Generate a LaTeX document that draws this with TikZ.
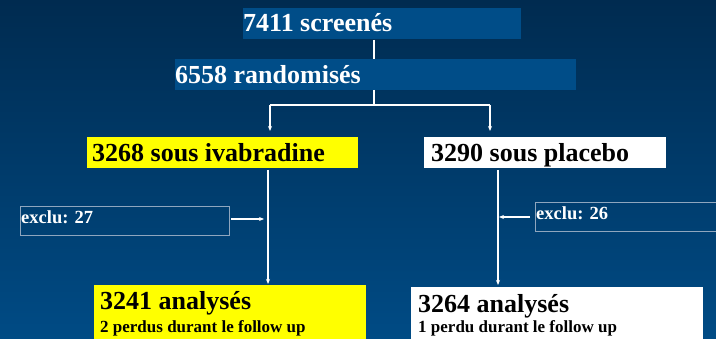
\documentclass[tikz,border=0pt]{standalone}
\usepackage{fontspec}
\setmainfont{Liberation Serif}
\usetikzlibrary{arrows.meta}
\definecolor{bgtop}{HTML}{002B50}
\definecolor{bgbot}{HTML}{004B85}
\definecolor{boxblue}{HTML}{004D88}
\definecolor{exborder}{HTML}{8FA6BE}
\definecolor{yel}{HTML}{FFFF00}
\tikzset{
  bigtxt/.style={anchor=base west, inner sep=0pt, font=\fontsize{26}{26}\selectfont\bfseries},
  smalltxt/.style={anchor=base west, inner sep=0pt, font=\fontsize{17}{17}\selectfont\bfseries},
  extxt/.style={anchor=base west, inner sep=0pt, font=\fontsize{18.5}{18.5}\selectfont\bfseries, text=white},
  conn/.style={draw=white, line width=1.2pt},
  arr/.style={conn, -{Stealth[length=5pt,width=4pt]}},
}
\begin{document}
\begin{tikzpicture}[x=1pt,y=-1pt]
\useasboundingbox (0,0) rectangle (716,339);
\shade[top color=bgtop, bottom color=bgbot] (0,0) rectangle (716,339);
% boxes
\fill[boxblue] (243,8) rectangle (521,39);
\fill[boxblue] (175,59) rectangle (576,90);
\fill[yel] (87,137) rectangle (358,168);
\fill[white] (424,137) rectangle (666,168);
\draw[exborder, line width=0.8pt] (20,206) rectangle (229,235);
\draw[exborder, line width=0.8pt] (535,202) rectangle (720,231);
\fill[yel] (94,285) rectangle (366,339);
\fill[white] (411,287) rectangle (703,339);
% texts
\node[bigtxt, text=white] (scr) at (243,32) {7411 screenés};
\node[bigtxt, text=white] (rand) at (175,84) {6558 randomisés};
\node[bigtxt] (iva) at (92,162) {3268 sous ivabradine};
\node[bigtxt] (pla) at (431,162) {3290 sous placebo};
\node[extxt] (ex1) at (21,224) {exclu: 27};
\node[extxt] (ex2) at (536,220) {exclu: 26};
\node[bigtxt] (an1) at (100,310) {3241 analysés};
\node[smalltxt] (pe1) at (100,333) {2 perdus durant le follow up};
\node[bigtxt] (an2) at (418,313) {3264 analysés};
\node[smalltxt] (pe2) at (418,333) {1 perdu durant le follow up};
% coordinates
\coordinate (a1) at (374,40);
\coordinate (a2) at (374,59);
\coordinate (b1) at (374,90);
\coordinate (b2) at (374,105);
\coordinate (l1) at (270,105);
\coordinate (l2) at (270,131);
\coordinate (r1) at (490,105);
\coordinate (r2) at (490,131);
\coordinate (i1) at (268,170);
\coordinate (i2) at (268,284);
\coordinate (p1) at (498,170);
\coordinate (p2) at (498,285);
\coordinate (e1a) at (231,219);
\coordinate (e1b) at (264,219);
\coordinate (e2a) at (530,217);
\coordinate (e2b) at (499,217);
% connectors
\draw[conn] (a1) -- (a2);
\draw[conn] (b1) -- (b2);
\draw[conn] (l1) -- (r1);
\draw[arr] (l1) -- (l2);
\draw[arr] (r1) -- (r2);
\draw[arr] (i1) -- (i2);
\draw[arr] (p1) -- (p2);
\draw[arr] (e1a) -- (e1b);
\draw[arr] (e2a) -- (e2b);
\end{tikzpicture}
\end{document}
